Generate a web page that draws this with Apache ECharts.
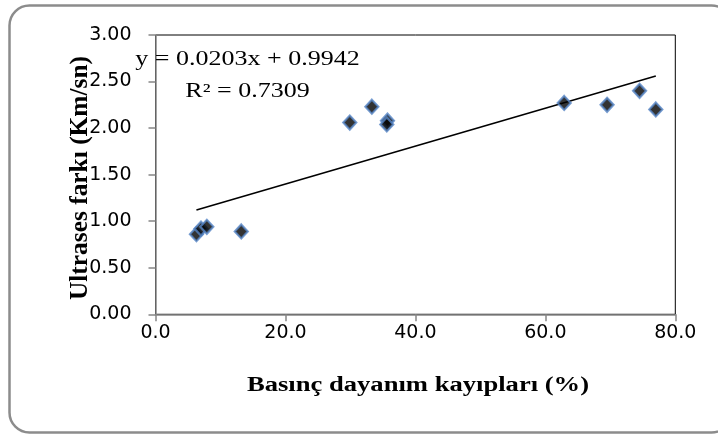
<!DOCTYPE html>
<html>
<head>
<meta charset="utf-8">
<script src="https://cdn.jsdelivr.net/npm/echarts@6/dist/echarts.min.js"></script>
<style>
html,body{margin:0;padding:0;background:#fff;}
#chart{width:718px;height:434px;}
</style>
</head>
<body>
<div id="chart"></div>
<script>
// Data
const lossPct = [6.3, 7.0, 7.9, 13.2, 29.9, 33.3, 35.7, 35.6, 62.9, 69.5, 74.5, 77.0];
const ultrasDiff = [0.86, 0.92, 0.94, 0.89, 2.06, 2.23, 2.08, 2.04, 2.27, 2.25, 2.40, 2.20];
// Linear trendline endpoints (y = 0.0203x + 0.9942), read at the min / max x
const trendX = [6.3, 77.0];
const trendY = [1.12, 2.56];
const xTicks = { min: 0, max: 80, interval: 20 };
const yTicks = { min: 0, max: 3, interval: 0.5 };
const eqLine1 = 'y = 0.0203x + 0.9942';
const eqLine2 = 'R² = 0.7309';
const xTitle = 'Basınç dayanım kayıpları (%)';
const yTitle = 'Ultrases farkı (Km/sn)';

const chart = echarts.init(document.getElementById('chart'), null, {renderer: 'canvas'});
const axisGray = '#868686';
const serif = '"Liberation Serif", "Times New Roman", serif';
const sans = '"DejaVu Sans", sans-serif';

chart.setOption({
  animation: false,
  backgroundColor: '#fff',
  grid: {
    left: 155.5, right: 42.7, top: 35, bottom: 119.7,
    show: true, borderColor: '#000', borderWidth: 1, backgroundColor: 'transparent'
  },
  xAxis: {
    type: 'value', min: xTicks.min, max: xTicks.max, interval: xTicks.interval,
    axisLine: {show: true, onZero: false, lineStyle: {color: axisGray, width: 1.5}},
    axisTick: {show: true, inside: false, length: 7, lineStyle: {color: axisGray, width: 1.5}},
    splitLine: {show: false},
    axisLabel: {
      margin: 9, color: '#000', fontFamily: sans, fontSize: 19,
      formatter: v => v.toFixed(1)
    }
  },
  yAxis: {
    type: 'value', min: yTicks.min, max: yTicks.max, interval: yTicks.interval,
    axisLine: {show: true, onZero: false, lineStyle: {color: axisGray, width: 1.5}},
    axisTick: {show: true, inside: false, length: 7, lineStyle: {color: axisGray, width: 1.5}},
    splitLine: {show: false},
    axisLabel: {
      margin: 24, color: '#000', fontFamily: sans, fontSize: 19,
      formatter: v => v.toFixed(2)
    }
  },
  series: [
    {
      type: 'line',
      data: trendX.map((x, i) => [x, trendY[i]]),
      symbol: 'none',
      lineStyle: {color: '#000', width: 1.6},
      z: 2
    },
    {
      type: 'scatter',
      data: lossPct.map((x, i) => [x, ultrasDiff[i]]),
      symbol: 'diamond',
      symbolSize: [13, 14],
      itemStyle: {color: '#000', borderColor: '#5585C5', borderWidth: 2.2},
      z: 3
    }
  ],
  graphic: [
    {
      type: 'rect', silent: true, z: 100,
      shape: {x: 9.5, y: 5.5, width: 722, height: 427, r: 20},
      style: {fill: 'none', stroke: '#8c8c8c', lineWidth: 2.5}
    },
    {
      type: 'text', x: 247.5, y: 60, scaleX: 1.3, z: 50,
      style: {text: eqLine1, font: '20px ' + serif, fill: '#000', align: 'center', verticalAlign: 'middle'}
    },
    {
      type: 'text', x: 247.5, y: 92, scaleX: 1.3, z: 50,
      style: {text: eqLine2, font: '20px ' + serif, fill: '#000', align: 'center', verticalAlign: 'middle'}
    },
    {
      type: 'text', x: 418, y: 386, scaleX: 1.33, z: 50,
      style: {text: xTitle, font: 'bold 20px ' + serif, fill: '#000', align: 'center', verticalAlign: 'middle'}
    },
    {
      type: 'text', x: 80, y: 178, rotation: Math.PI / 2, scaleX: 1.27, scaleY: 1.3, z: 50,
      style: {text: yTitle, font: 'bold 20px ' + serif, fill: '#000', align: 'center', verticalAlign: 'middle'}
    }
  ]
});
</script>
</body>
</html>
